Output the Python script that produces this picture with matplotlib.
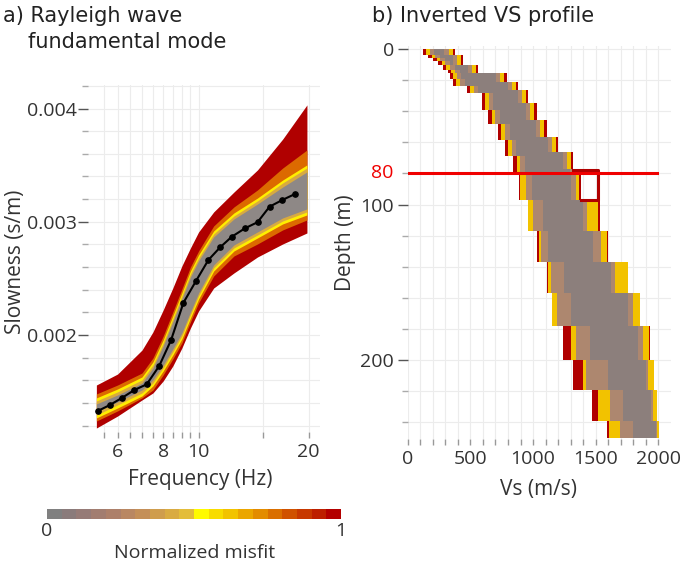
import matplotlib
matplotlib.use("Agg")
import matplotlib.pyplot as plt
from matplotlib.colors import ListedColormap, Normalize
from matplotlib.ticker import FixedLocator, FixedFormatter, NullFormatter
import matplotlib.colorbar as mcolorbar

plt.rcParams['font.family'] = ['Open Sans', 'DejaVu Sans']

# ---------------- panel a : dispersion data ----------------
freq_hz = [5.30, 5.72, 6.18, 6.67, 7.21, 7.80, 8.41, 9.09, 9.85, 10.64,
           11.46, 12.33, 13.41, 14.50, 15.64, 16.97, 18.39]
slowness_obs = [0.001329, 0.001382, 0.001446, 0.001514, 0.001564, 0.001726,
                0.001956, 0.002285, 0.002480, 0.002663, 0.002775, 0.002868,
                0.002943, 0.002996, 0.003133, 0.003193, 0.003246]

# envelopes of the model dispersion curves, per misfit class (upper / lower)
env_freq = [5.25, 6.0, 7.0, 7.5, 8.0, 8.5, 9.0, 9.5, 10.0, 11.0, 12.5, 14.5, 17.0, 19.8]
red_top = [0.001558, 0.001655, 0.001867, 0.002027, 0.002221, 0.002415, 0.002610,
           0.002769, 0.002910, 0.003087, 0.003263, 0.003458, 0.003731, 0.004032]
red_bot = [0.001178, 0.001284, 0.001426, 0.001488, 0.001594, 0.001726, 0.001885,
           0.002062, 0.002212, 0.002415, 0.002548, 0.002689, 0.002804, 0.002901]
orange_top = [0.001479, 0.001558, 0.001664, 0.001797, 0.001991, 0.002203, 0.002406,
              0.002601, 0.002742, 0.002963, 0.003131, 0.003281, 0.003475, 0.003634]
orange_bot = [0.001240, 0.001329, 0.001444, 0.001514, 0.001647, 0.001788, 0.001929,
              0.002115, 0.002283, 0.002521, 0.002698, 0.002804, 0.002928, 0.003016]
yellow_top = [0.001444, 0.001523, 0.001629, 0.001762, 0.001956, 0.002168, 0.002371,
              0.002565, 0.002707, 0.002919, 0.003078, 0.003210, 0.003369, 0.003502]
yellow_bot = [0.001267, 0.001355, 0.001461, 0.001550, 0.001682, 0.001823, 0.001965,
              0.002150, 0.002318, 0.002565, 0.002742, 0.002857, 0.002981, 0.003060]
tan_top = [0.001417, 0.001497, 0.001603, 0.001735, 0.001929, 0.002141, 0.002345,
           0.002539, 0.002680, 0.002892, 0.003051, 0.003184, 0.003343, 0.003475]
tan_bot = [0.001293, 0.001382, 0.001488, 0.001576, 0.001709, 0.001850, 0.001991,
           0.002177, 0.002345, 0.002592, 0.002769, 0.002883, 0.003007, 0.003087]
gray_top = [0.001391, 0.001470, 0.001576, 0.001709, 0.001903, 0.002115, 0.002318,
            0.002512, 0.002654, 0.002866, 0.003025, 0.003157, 0.003307, 0.003440]
gray_bot = [0.001320, 0.001408, 0.001514, 0.001603, 0.001735, 0.001876, 0.002018,
            0.002203, 0.002371, 0.002618, 0.002795, 0.002910, 0.003034, 0.003113]

freq_ticks = [6, 8, 10, 20]
freq_tick_labels = ['6', '8', '10', '20']
freq_minor = [5.5, 6.5, 7, 7.5, 8.5, 9, 9.5, 15]
slow_ticks = [0.002, 0.003, 0.004]
slow_tick_labels = ['0.002', '0.003', '0.004']
slow_minor = [0.0012, 0.0014, 0.0016, 0.0018, 0.0022, 0.0024, 0.0026, 0.0028,
              0.0032, 0.0034, 0.0036, 0.0038, 0.0042]

# ---------------- panel b : Vs profiles ----------------
layer_top = [0, 4, 6, 8, 10, 13.5, 15.5, 19, 21, 24, 26.5, 28.5, 35, 39, 45.5,
             48, 56.5, 58.5, 66, 69, 77, 79, 97, 117, 137, 157, 178, 200, 219, 239]
layer_base = 250
red_left = [119, 165, 205, 245, 284, 324, 338, 364, 364, 471, 471, 590, 590, 644, 644,
            723, 723, 777, 777, 843, 843, 888, 960, 1035, 1110, 1149, 1242, 1317, 1468, 1593]
red_right = [378, 444, 444, 444, 564, 564, 790, 790, 883, 883, 963, 963, 1029, 1029, 1109,
             1109, 1202, 1202, 1322, 1322, 1380, 1380, 1535, 1601, 1761, 1854, 1929, 1966, 1987, 2008]
yel_left = [144, 190, 230, 270, 309, 349, 363, 389, 389, 496, 496, 615, 615, 669, 669,
            748, 748, 802, 802, 868, 868, 895, 963, 1045, 1120, 1150, 1300, 1400, 1521, 1603]
yel_right = [358, 424, 424, 424, 544, 544, 770, 770, 863, 863, 943, 943, 1009, 1009, 1089,
             1089, 1182, 1182, 1302, 1302, 1360, 1370, 1515, 1590, 1760, 1850, 1925, 1962, 1985, 2005]
tan_left = [174, 220, 260, 300, 339, 379, 393, 419, 419, 526, 526, 645, 645, 699, 699,
            778, 778, 832, 832, 898, 898, 940, 1000, 1060, 1140, 1190, 1345, 1425, 1614, 1694]
tan_right = [328, 394, 394, 394, 514, 514, 740, 740, 833, 833, 913, 913, 979, 979, 1059,
             1059, 1152, 1152, 1272, 1272, 1330, 1345, 1430, 1540, 1650, 1800, 1880, 1920, 1960, 1990]
gray_left = [209, 255, 295, 335, 374, 414, 428, 454, 454, 561, 561, 680, 680, 734, 734,
             813, 813, 867, 867, 933, 933, 990, 1080, 1120, 1250, 1300, 1450, 1600, 1720, 1800]
gray_right = [293, 359, 359, 359, 479, 479, 705, 705, 798, 798, 878, 878, 944, 944, 1024,
              1024, 1117, 1117, 1237, 1237, 1295, 1300, 1400, 1480, 1620, 1760, 1840, 1900, 1940, 1980]
worst_vs = [1322, 1515, 1515, 1380]
worst_depth = [77.5, 77.5, 97, 97]
ref_depth = 80
ref_vs = [0, 1985]
ref_label = '80'

vs_ticks = [0, 500, 1000, 1500, 2000]
vs_tick_labels = ['0', '500', '1000', '1500', '2000']
vs_minor = [v for v in range(100, 2100, 100) if v % 500 != 0]
depth_ticks = [0, 100, 200]
depth_tick_labels = ['0', '100', '200']
depth_minor = [20, 40, 60, 80, 120, 140, 160, 180, 220, 240]

cbar_ticks = [0, 1]
cbar_tick_labels = ['0', '1']

# ---------------- styles ----------------
misfit_colors = ['#808080', '#8a7b7b', '#967b77', '#a27d70', '#ad806a', '#b98762',
                 '#c48f58', '#cf9d4d', '#d9ab42', '#e3bd3a', '#fffb00', '#f8dc00',
                 '#f2c300', '#eba600', '#e38c00', '#da6f00', '#d05200', '#c73800',
                 '#bd1f00', '#b30000']
C_RED = '#b00000'
C_ORANGE = '#dc6a00'
C_YELLOW = '#ffee00'
C_TAN = '#d8aa40'
C_GRAY = '#8e8886'
B_YELLOW = '#f2c200'
B_TAN = '#ad876f'
B_GRAY = '#8c7f7c'
TXT = '#333333'
GRID = '#ececec'

fig = plt.figure(figsize=(6.85, 5.63), dpi=100)
W, H = 685.0, 563.0

# ---------------- panel a ----------------
axA = fig.add_axes([88 / W, 1 - 432 / H, (320 - 88) / W, (432 - 85) / H])
axA.set_xscale('log')
axA.set_xlim(4.98, 21.5)
axA.set_ylim(0.001143, 0.004208)
for top, bot, col in [(red_top, red_bot, C_RED), (orange_top, orange_bot, C_ORANGE),
                      (yellow_top, yellow_bot, C_YELLOW), (tan_top, tan_bot, C_TAN),
                      (gray_top, gray_bot, C_GRAY)]:
    axA.fill_between(env_freq, bot, top, color=col, lw=0, zorder=2)
axA.plot(freq_hz, slowness_obs, '-o', color='black', lw=1.5, ms=3.8, zorder=3)

axA.xaxis.set_major_locator(FixedLocator(freq_ticks))
axA.xaxis.set_major_formatter(FixedFormatter(freq_tick_labels))
axA.xaxis.set_minor_locator(FixedLocator(freq_minor))
axA.xaxis.set_minor_formatter(NullFormatter())
axA.yaxis.set_major_locator(FixedLocator(slow_ticks))
axA.yaxis.set_major_formatter(FixedFormatter(slow_tick_labels))
axA.yaxis.set_minor_locator(FixedLocator(slow_minor))
axA.yaxis.set_minor_formatter(NullFormatter())
axA.grid(True, which='both', color=GRID, lw=0.8, zorder=0)
axA.set_axisbelow(True)
for s in axA.spines.values():
    s.set_visible(False)
axA.tick_params(axis='y', which='major', length=7, width=1, color='#555555',
                labelsize=14, labelcolor=TXT, pad=1)
axA.tick_params(axis='y', which='minor', length=4, width=1, color='#aaaaaa')
axA.tick_params(axis='x', which='both', length=4, width=1, color='#999999',
                labelsize=14, labelcolor=TXT, pad=4)

fig.text(200 / W, 1 - 479 / H, 'Frequency (Hz)', ha='center', va='center',
         fontsize=15, color=TXT)
fig.text(16 / W, 1 - 262 / H, 'Slowness (s/m)', ha='center', va='center',
         fontsize=15, color=TXT, rotation=90)
fig.text(3 / W, 1 - 22 / H, 'a) Rayleigh wave', ha='left', va='baseline',
         fontsize=15, color='#222222', family='DejaVu Sans')
fig.text(28 / W, 1 - 48 / H, 'fundamental mode', ha='left', va='baseline',
         fontsize=15, color='#222222', family='DejaVu Sans')

# ---------------- panel b ----------------
axB = fig.add_axes([407.7 / W, 1 - 439.3 / H, (671 - 407.7) / W, (439.3 - 45.9) / H])
axB.set_xlim(0, 2100)
axB.set_ylim(251, -2)
edges = layer_top + [layer_base]
for left, right, col in [(red_left, red_right, C_RED), (yel_left, yel_right, B_YELLOW),
                         (tan_left, tan_right, B_TAN), (gray_left, gray_right, B_GRAY)]:
    axB.fill_betweenx(edges, left + [left[-1]], right + [right[-1]], step='post',
                      color=col, lw=0, zorder=2)
axB.plot(worst_vs, worst_depth, color=C_RED, lw=2.2, zorder=3)
axB.plot(ref_vs, [ref_depth, ref_depth], color='#f00000', lw=2.2, zorder=4)
axB.annotate(ref_label, xy=(0, ref_depth), xycoords=('axes fraction', 'data'),
             xytext=(-10, 0), textcoords='offset points', ha='right', va='center',
             color='#f00000', fontsize=14)

axB.xaxis.set_major_locator(FixedLocator(vs_ticks))
axB.xaxis.set_major_formatter(FixedFormatter(vs_tick_labels))
axB.xaxis.set_minor_locator(FixedLocator(vs_minor))
axB.yaxis.set_major_locator(FixedLocator(depth_ticks))
axB.yaxis.set_major_formatter(FixedFormatter(depth_tick_labels))
axB.yaxis.set_minor_locator(FixedLocator(depth_minor))
axB.grid(True, which='both', color=GRID, lw=0.8, zorder=0)
axB.set_axisbelow(True)
for s in axB.spines.values():
    s.set_visible(False)
axB.tick_params(axis='y', which='major', length=7, width=1, color='#555555',
                labelsize=14, labelcolor=TXT, pad=3)
axB.tick_params(axis='y', which='minor', length=4, width=1, color='#aaaaaa')
axB.tick_params(axis='x', which='both', length=4, width=1, color='#999999',
                labelsize=14, labelcolor=TXT, pad=4)

fig.text(538 / W, 1 - 489 / H, 'Vs (m/s)', ha='center', va='center',
         fontsize=15, color=TXT)
fig.text(345 / W, 1 - 243 / H, 'Depth (m)', ha='center', va='center',
         fontsize=15, color=TXT, rotation=90)
fig.text(372 / W, 1 - 22 / H, 'b) Inverted VS profile', ha='left', va='baseline',
         fontsize=15, color='#222222', family='DejaVu Sans')

# ---------------- colorbar ----------------
axC = fig.add_axes([47 / W, 1 - 519 / H, 294 / W, 10 / H])
cb = mcolorbar.ColorbarBase(axC, cmap=ListedColormap(misfit_colors),
                            norm=Normalize(0, 1), orientation='horizontal')
cb.outline.set_visible(False)
cb.set_ticks(cbar_ticks)
cb.set_ticklabels(cbar_tick_labels)
axC.tick_params(length=0, labelsize=14, labelcolor=TXT, pad=2)
fig.text(195 / W, 1 - 553 / H, 'Normalized misfit', ha='center', va='center',
         fontsize=14, color=TXT)

fig.savefig('out.png', dpi=100)
